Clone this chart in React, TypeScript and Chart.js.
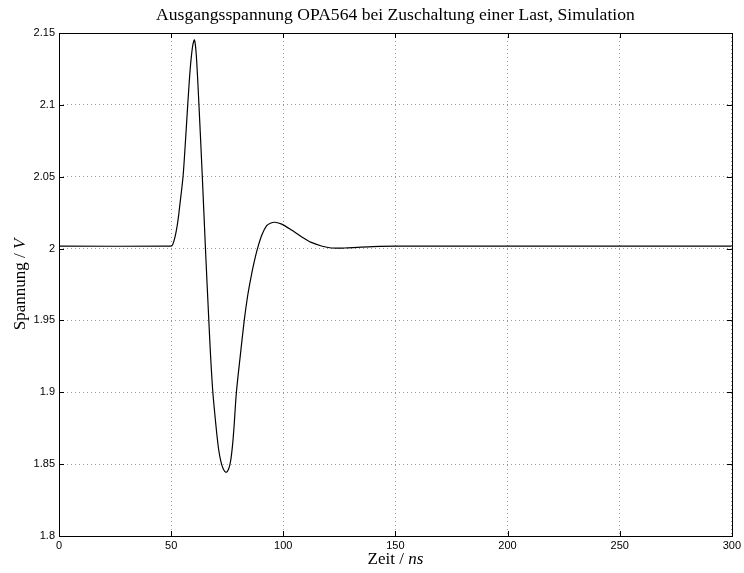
import React, { useEffect, useRef } from "react";
import { Chart, registerables } from "chart.js";

Chart.register(...registerables);

const timeNs = [0, 50, 50.6, 51.3, 52.1, 53, 54, 55.3, 56.4, 57.4, 58.5, 59.6, 60.4, 61.2, 62.4, 63.9, 65.3, 66.8, 67.6, 68.6, 70.1, 71.2, 72.3, 73.3, 74.5, 75.6, 76.5, 77.3, 78.0, 79.1, 80.8, 82.6, 84.1, 85.6, 87.0, 88.5, 90.4, 92.6, 94.5, 96.3, 99.3, 103.7, 108.1, 112.5, 117, 121.4, 127.3, 133.2, 140, 150, 200, 250, 300];
const voltage = [2.0017, 2.0017, 2.0025, 2.0055, 2.0107, 2.019, 2.032, 2.05, 2.075, 2.1, 2.125, 2.141, 2.1452, 2.135, 2.1, 2.05, 2.0, 1.95, 1.925, 1.9, 1.875, 1.86, 1.851, 1.8465, 1.8443, 1.8465, 1.852, 1.862, 1.875, 1.9, 1.925, 1.95, 1.967, 1.98, 1.9905, 2.0, 2.0093, 2.016, 2.0178, 2.0183, 2.017, 2.0129, 2.0083, 2.0043, 2.0018, 2.0004, 2.0004, 2.0009, 2.0014, 2.0017, 2.0017, 2.0017, 2.0017];

const xTickValues = [0, 50, 100, 150, 200, 250, 300];
const xTickLabels = ["0", "50", "100", "150", "200", "250", "300"];
const yTickValues = [1.8, 1.85, 1.9, 1.95, 2.0, 2.05, 2.1, 2.15];
const yTickLabels = ["1.8", "1.85", "1.9", "1.95", "2", "2.05", "2.1", "2.15"];

const titleText = "Ausgangsspannung OPA564 bei Zuschaltung einer Last, Simulation";
const xTitleParts = [["Zeit / ", false], ["ns", true]] as [string, boolean][];
const yTitleParts = [["Spannung / ", false], ["V", true]] as [string, boolean][];

const SERIF = '"Liberation Serif", "DejaVu Serif", serif';

function drawParts(ctx: CanvasRenderingContext2D, parts: [string, boolean][], size: number) {
  let total = 0;
  const widths = parts.map(([t, it]) => {
    ctx.font = `${it ? "italic " : ""}${size}px ${SERIF}`;
    const w = ctx.measureText(t).width;
    total += w;
    return w;
  });
  let x = -total / 2;
  parts.forEach(([t, it], i) => {
    ctx.font = `${it ? "italic " : ""}${size}px ${SERIF}`;
    ctx.fillText(t, x, 0);
    x += widths[i];
  });
}

const decorPlugin = {
  id: "decor",
  afterDatasetsDraw(chart: any) {
    const { ctx, chartArea } = chart;
    const { left, right, top, bottom } = chartArea;
    const xs = chart.scales.x;
    const ys = chart.scales.y;
    ctx.save();
    ctx.strokeStyle = "#000";
    ctx.lineWidth = 1;
    const tl = 5;
    ctx.beginPath();
    xTickValues.forEach((v) => {
      const px = Math.round(xs.getPixelForValue(v)) + 0.5;
      ctx.moveTo(px, bottom);
      ctx.lineTo(px, bottom - tl);
      ctx.moveTo(px, top);
      ctx.lineTo(px, top + tl);
    });
    yTickValues.forEach((v) => {
      const py = Math.round(ys.getPixelForValue(v)) + 0.5;
      ctx.moveTo(left, py);
      ctx.lineTo(left + tl, py);
      ctx.moveTo(right, py);
      ctx.lineTo(right - tl, py);
    });
    ctx.stroke();
    ctx.strokeRect(Math.round(left) + 0.5, Math.round(top) + 0.5, Math.round(right - left), Math.round(bottom - top));

    ctx.fillStyle = "#000";
    ctx.textAlign = "left";
    ctx.textBaseline = "middle";
    ctx.save();
    ctx.font = `17.6px ${SERIF}`;
    ctx.textAlign = "center";
    ctx.fillText(titleText, (left + right) / 2, 15);
    ctx.restore();
    ctx.save();
    ctx.translate((left + right) / 2, 560);
    drawParts(ctx, xTitleParts, 17);
    ctx.restore();
    ctx.save();
    ctx.translate(21, (top + bottom) / 2);
    ctx.rotate(-Math.PI / 2);
    drawParts(ctx, yTitleParts, 17);
    ctx.restore();
    ctx.restore();
  },
};

export default function App() {
  const ref = useRef<HTMLCanvasElement>(null);
  useEffect(() => {
    const canvas = ref.current!;
    const chart = new Chart(canvas, {
      type: "line",
      data: {
        datasets: [
          {
            data: timeNs.map((t, i) => ({ x: t, y: voltage[i] })),
            borderColor: "#000",
            borderWidth: 1.2,
            pointRadius: 0,
            tension: 0.3,
            fill: false,
          },
        ],
      },
      options: {
        animation: false,
        responsive: false,
        devicePixelRatio: 1,
        layout: { padding: { left: 0, top: 33, right: 8, bottom: 0 }, autoPadding: false },
        plugins: { legend: { display: false }, title: { display: false }, tooltip: { enabled: false } },
        scales: {
          x: {
            type: "linear",
            min: 0,
            max: 300,
            afterBuildTicks: (s: any) => {
              s.ticks = xTickValues.map((v) => ({ value: v }));
            },
            afterFit: (s: any) => {
              s.height = 37;
            },
            ticks: {
              callback: (v: any) => xTickLabels[xTickValues.indexOf(Number(v))] ?? "",
              font: { family: '"Liberation Sans", Arial, sans-serif', size: 11 },
              color: "#000",
              padding: 3,
              maxRotation: 0,
              autoSkip: false,
            },
            grid: { color: "#9a9a9a", lineWidth: 1, drawTicks: false },
            border: { display: false, dash: [1, 3] },
          },
          y: {
            type: "linear",
            min: 1.8,
            max: 2.15,
            afterBuildTicks: (s: any) => {
              s.ticks = yTickValues.map((v) => ({ value: v }));
            },
            afterFit: (s: any) => {
              s.width = 59;
            },
            ticks: {
              callback: (v: any) => {
                const i = yTickValues.findIndex((t) => Math.abs(t - Number(v)) < 1e-6);
                return i >= 0 ? yTickLabels[i] : "";
              },
              font: { family: '"Liberation Sans", Arial, sans-serif', size: 11 },
              color: "#000",
              padding: 4,
              autoSkip: false,
            },
            grid: { color: "#9a9a9a", lineWidth: 1, drawTicks: false },
            border: { display: false, dash: [1, 3] },
          },
        },
      },
      plugins: [decorPlugin],
    });
    return () => chart.destroy();
  }, []);
  return (
    <div style={{ position: "fixed", left: 0, top: 0, width: 744, height: 573, background: "#fff" }}>
      <canvas ref={ref} width={744} height={573} style={{ width: 744, height: 573 }} />
    </div>
  );
}
